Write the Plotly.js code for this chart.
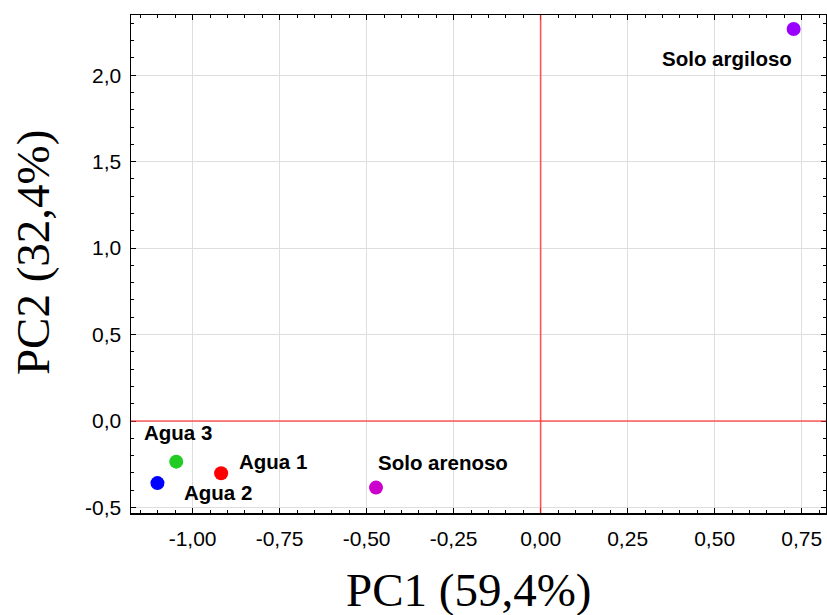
<!DOCTYPE html>
<html>
<head>
<meta charset="utf-8">
<script src="https://cdn.plot.ly/plotly-3.0.1.min.js"></script>
<style>html,body{margin:0;padding:0;background:#fff;}#chart{width:827px;height:615px;}</style>
</head>
<body>
<div id="chart"></div>
<script>
// Data
const sampleNames = ["Agua 1", "Agua 2", "Agua 3", "Solo arenoso", "Solo argiloso"];
const pc1 = [-0.918, -1.101, -1.047, -0.473, 0.727];
const pc2 = [-0.302, -0.359, -0.235, -0.385, 2.267];
const pointColors = ["#ff0000", "#0000ff", "#22cc22", "#cc00cc", "#9900ff"];
const xTickVals = [-1.00, -0.75, -0.50, -0.25, 0.00, 0.25, 0.50, 0.75];
const xTickText = ["-1,00", "-0,75", "-0,50", "-0,25", "0,00", "0,25", "0,50", "0,75"];
const yTickVals = [-0.5, 0.0, 0.5, 1.0, 1.5, 2.0];
const yTickText = ["-0,5", "0,0", "0,5", "1,0", "1,5", "2,0"];
const xTitle = "PC1 (59,4%)";
const yTitle = "PC2 (32,4%)";

// label offsets (pixels) – styling only
const labelDX = [52, 61, 2, 67, -67];
const labelDY = [12, -9, 29, 25, -29];

const traces = [{
  x: pc1, y: pc2, mode: "markers", type: "scatter",
  marker: {color: pointColors, size: 14},
  hoverinfo: "text", text: sampleNames, showlegend: false, cliponaxis: false
}];

const annotations = sampleNames.map((n, i) => ({
  x: pc1[i], y: pc2[i], xref: "x", yref: "y", text: n, showarrow: false,
  xshift: labelDX[i], yshift: labelDY[i],
  font: {family: "Liberation Sans, Arial, sans-serif", size: 20.5, color: "#000", weight: "bold"}
}));

const titleFont = {family: "Liberation Serif, Times New Roman, serif", size: 47, color: "#000"};
annotations.push({
  xref: "paper", yref: "paper", x: 0.485, y: -0.155, xanchor: "center", yanchor: "middle",
  text: xTitle, showarrow: false, font: titleFont
});
annotations.push({
  xref: "paper", yref: "paper", x: -0.141, y: 0.522, xanchor: "center", yanchor: "middle",
  text: yTitle, showarrow: false, textangle: -90, font: titleFont
});

const axisCommon = {
  showline: true, linecolor: "#000", linewidth: 1.5, mirror: "allticks",
  ticks: "inside", ticklen: 5, tickcolor: "#000", tickwidth: 1,
  showgrid: true, gridcolor: "#dedede", gridwidth: 1,
  zeroline: false,
  tickfont: {family: "Liberation Sans, Arial, sans-serif", size: 21, color: "#000"}
};

const redLine = {color: "rgba(255,50,50,0.8)", width: 1.6};

const layout = {
  width: 827, height: 615,
  margin: {l: 131, r: 1, t: 15, b: 102},
  paper_bgcolor: "#fff", plot_bgcolor: "#fff",
  xaxis: Object.assign({}, axisCommon, {
    range: [-1.177, 0.82], tickmode: "array", tickvals: xTickVals, ticktext: xTickText,
    minor: {dtick: 0.05, tick0: 0, ticks: "inside", ticklen: 3, tickcolor: "#000", showgrid: false},
    ticklabelstandoff: 6
  }),
  yaxis: Object.assign({}, axisCommon, {
    range: [-0.532, 2.348], tickmode: "array", tickvals: yTickVals, ticktext: yTickText,
    minor: {dtick: 0.1, tick0: 0, ticks: "inside", ticklen: 3, tickcolor: "#000", showgrid: false},
    ticklabelstandoff: 4
  }),
  shapes: [
    {type: "line", xref: "x", yref: "paper", x0: 0, x1: 0, y0: 0, y1: 1, line: redLine, layer: "above"},
    {type: "line", xref: "paper", yref: "y", x0: 0, x1: 1, y0: 0, y1: 0, line: redLine, layer: "above"}
  ],
  annotations: annotations
};

Plotly.newPlot("chart", traces, layout, {displayModeBar: false, staticPlot: true});
</script>
</body>
</html>
